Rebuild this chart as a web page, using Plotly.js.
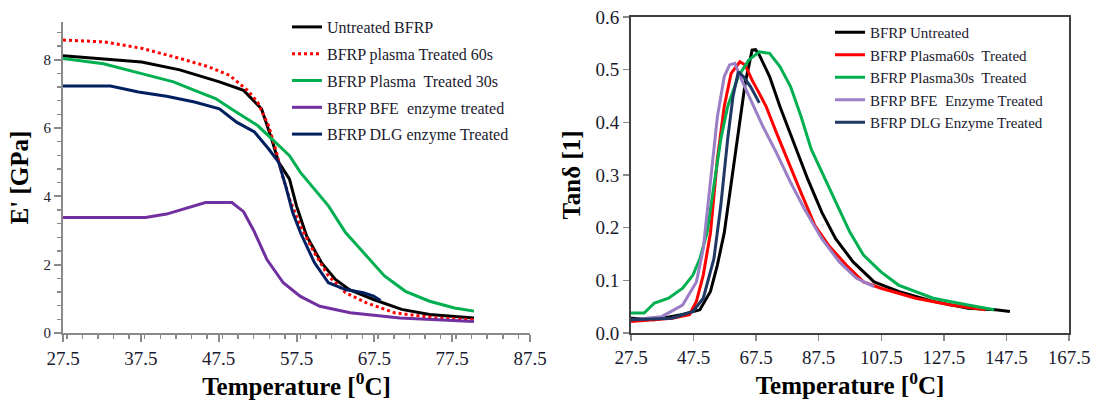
<!DOCTYPE html>
<html>
<head>
<meta charset="utf-8">
<script src="https://cdn.plot.ly/plotly-3.0.1.min.js"></script>
<style>html,body{margin:0;padding:0;background:#fff;}#chart{width:1097px;height:400px;}</style>
</head>
<body>
<div id="chart"></div>
<script>
// ---------- Left panel: storage modulus E' [GPa] ----------
const eUntreatedT = [27.5,32.5,37.6,42.5,47.6,50.7,53,54.3,55.2,56.6,57.5,58.8,60.7,62.5,64.3,67.4,71,74.6,80.3];
const eUntreated  = [8.11,8.03,7.93,7.7,7.35,7.1,6.56,5.68,5.0,4.5,3.72,2.84,2.06,1.57,1.27,0.98,0.69,0.54,0.44];
const ePlasma60T  = [27.5,32.7,37.6,42.6,46.2,48.9,51.2,52.5,53.9,54.8,55.7,56.6,58,59.8,61.6,63.8,66.5,70.1,75.5,80.3];
const ePlasma60   = [8.57,8.52,8.33,8.03,7.79,7.54,7.1,6.76,6.07,5.39,4.6,3.92,3.13,2.35,1.67,1.18,0.88,0.59,0.44,0.39];
const ePlasma30T  = [27.5,32.7,37.6,41.7,44.4,47.1,49.8,52.5,54.8,56.6,58,59.8,61.6,63.8,66.1,68.8,71.5,74.6,77.8,80.3];
const ePlasma30   = [8.03,7.88,7.59,7.35,7.1,6.86,6.46,6.07,5.58,5.19,4.7,4.21,3.72,2.94,2.35,1.67,1.22,0.93,0.73,0.64];
const eBfeT       = [27.5,38.1,40.8,43.5,45.8,49.2,50.7,52,53.7,55.8,58,60.5,64.4,70.8,75.5,80.3];
const eBfe        = [3.38,3.38,3.48,3.67,3.82,3.82,3.55,3.0,2.15,1.47,1.07,0.78,0.59,0.44,0.39,0.34];
const eDlgT       = [27.5,33.6,37.2,40.8,44.4,47.6,49.8,52.1,53.9,55.2,56.1,57,58,59.8,61.6,63.8,66.1,67.4,68.3];
const eDlg        = [7.23,7.23,7.05,6.93,6.76,6.56,6.17,5.88,5.39,5.0,4.31,3.53,2.94,2.06,1.47,1.27,1.18,1.08,0.95];
const leftNames   = ["Untreated BFRP","BFRP plasma Treated 60s","BFRP Plasma  Treated 30s","BFRP BFE  enzyme treated","BFRP DLG enzyme Treated"];

// ---------- Right panel: Tan delta ----------
const tUntreatedT = [27.5,35,44,49.5,52.9,55.1,57.3,59.5,61.8,64,66.2,67.3,68.5,71.8,75.1,79.6,84,88.5,92.9,98.5,105.2,113,124.1,135.2,144.1,148.6];
const tUntreated  = [0.028,0.025,0.035,0.044,0.079,0.129,0.19,0.28,0.38,0.474,0.537,0.538,0.528,0.487,0.43,0.361,0.292,0.229,0.179,0.135,0.097,0.079,0.06,0.047,0.044,0.041];
const tPlasma60T  = [27.5,40.6,46.2,48.4,50.6,52.9,55.1,57.3,59.5,62.3,64,66.2,68.5,70.7,74,77.4,81.8,86.3,90.7,96.3,101.8,107.4,118.5,129.7,140.8];
const tPlasma60   = [0.022,0.028,0.035,0.06,0.11,0.19,0.33,0.43,0.493,0.515,0.509,0.48,0.455,0.43,0.38,0.33,0.267,0.204,0.166,0.129,0.097,0.085,0.066,0.053,0.044];
const tPlasma30T  = [27.5,31.7,35,39.5,44,47.3,49.5,51.8,54,56.2,58.4,61.8,65.1,68.5,71.8,75.1,78.5,81.8,85.1,88.5,92.9,97.4,101.8,107.4,113,124.1,135.2,143.6];
const tPlasma30   = [0.038,0.038,0.057,0.066,0.085,0.11,0.141,0.19,0.28,0.368,0.43,0.487,0.518,0.534,0.531,0.506,0.468,0.412,0.349,0.305,0.248,0.192,0.148,0.116,0.091,0.066,0.053,0.044];
const tBfeT       = [27.5,37.3,44,48.4,50.6,52.9,55.1,57.3,59,60.7,62.9,66.2,69.6,74,78.5,82.9,88.5,94.1,99.6,105.2];
const tBfe        = [0.025,0.031,0.053,0.097,0.16,0.286,0.41,0.487,0.509,0.512,0.48,0.437,0.393,0.342,0.286,0.236,0.179,0.135,0.104,0.088];
const tDlgT       = [27.5,40.6,47.3,50.6,54,56.2,58.4,60.1,61.8,63.4,65.7,68.5];
const tDlg        = [0.025,0.028,0.041,0.066,0.141,0.242,0.368,0.449,0.496,0.487,0.468,0.437];
const rightNames  = ["BFRP Untreated","BFRP Plasma60s  Treated","BFRP Plasma30s  Treated","BFRP BFE  Enzyme Treated","BFRP DLG Enzyme Treated"];

const xTitle = "Temperature [<sup>0</sup>C]";
const leftYTitle = "E' [GPa]";
const rightYTitle = "Tanδ [1]";

const serif = "Liberation Serif, Times New Roman, serif";
const txt = "#1a1a2e";

function tr(x, y, name, color, dash, xa, ya, legend, group) {
  return {x: x, y: y, name: name, type: "scatter", mode: "lines",
          line: {color: color, width: 3, dash: dash}, xaxis: xa, yaxis: ya,
          legend: legend, legendgroup: group};
}

const data = [
  tr(eUntreatedT, eUntreated, leftNames[0], "#000000", "solid", "x", "y", "legend", "a"),
  tr(ePlasma60T, ePlasma60, leftNames[1], "#ff0000", "dot", "x", "y", "legend", "b"),
  tr(ePlasma30T, ePlasma30, leftNames[2], "#00b050", "solid", "x", "y", "legend", "c"),
  tr(eBfeT, eBfe, leftNames[3], "#7030a0", "solid", "x", "y", "legend", "d"),
  tr(eDlgT, eDlg, leftNames[4], "#002060", "solid", "x", "y", "legend", "e"),
  tr(tUntreatedT, tUntreated, rightNames[0], "#000000", "solid", "x2", "y2", "legend2", "f"),
  tr(tPlasma60T, tPlasma60, rightNames[1], "#ff0000", "solid", "x2", "y2", "legend2", "f"),
  tr(tPlasma30T, tPlasma30, rightNames[2], "#00b050", "solid", "x2", "y2", "legend2", "f"),
  tr(tBfeT, tBfe, rightNames[3], "#9a7fc6", "solid", "x2", "y2", "legend2", "f"),
  tr(tDlgT, tDlg, rightNames[4], "#1f3864", "solid", "x2", "y2", "legend2", "f")
];

const tickFontX = {family: serif, size: 19, color: txt};
const titleFont = {family: serif, size: 25, color: "#000", weight: 700};

const layout = {
  width: 1097, height: 400,
  margin: {l: 0, r: 0, t: 0, b: 0},
  paper_bgcolor: "#fff", plot_bgcolor: "#fff",
  font: {family: serif, color: txt},
  xaxis: {domain: [63/1097, 530/1097], range: [27.5, 87.5], tick0: 27.5, dtick: 10,
          showgrid: false, zeroline: false, showline: true, linecolor: "#8a8a8a", linewidth: 2,
          ticks: "outside", ticklen: 7, tickwidth: 2, tickcolor: "#8a8a8a",
          minor: {dtick: 2, ticks: "outside", ticklen: 4, tickwidth: 1.5, tickcolor: "#8a8a8a"},
          tickfont: tickFontX, tickformat: ".1f",
          title: {text: xTitle, font: titleFont, standoff: 2}, anchor: "y"},
  yaxis: {domain: [1 - 333/400, 1 - 22/400], range: [0, 9.1], dtick: 2,
          showgrid: false, zeroline: false, showline: true, linecolor: "#8a8a8a", linewidth: 2,
          ticks: "outside", ticklen: 7, tickwidth: 2, tickcolor: "#8a8a8a",
          minor: {dtick: 0.4, ticks: "outside", ticklen: 4, tickwidth: 1.5, tickcolor: "#8a8a8a"},
          tickfont: {family: serif, size: 15, color: txt},
          title: {text: leftYTitle, font: titleFont, standoff: 8}, anchor: "x"},
  xaxis2: {domain: [631/1097, 1069/1097], range: [27.5, 167.5], tick0: 27.5, dtick: 20,
          showgrid: false, zeroline: false, showline: true, mirror: true, linecolor: "#404040", linewidth: 2,
          ticks: "outside", ticklen: 6, tickwidth: 1.5, tickcolor: "#8a8a8a",
          tickfont: tickFontX, tickformat: ".1f",
          title: {text: xTitle, font: titleFont, standoff: 2}, anchor: "y2"},
  yaxis2: {domain: [1 - 333/400, 1 - 17/400], range: [0, 0.6], dtick: 0.1, tickformat: ".1f",
          showgrid: false, zeroline: false, showline: true, mirror: true, linecolor: "#404040", linewidth: 2,
          ticks: "outside", ticklen: 6, tickwidth: 1.5, tickcolor: "#8a8a8a",
          tickfont: {family: serif, size: 19, color: txt},
          title: {text: rightYTitle, font: titleFont, standoff: 8}, anchor: "x2"},
  legend: {x: 287/1097, y: 1 - 10/400, xanchor: "left", yanchor: "top", bgcolor: "rgba(0,0,0,0)",
           font: {family: serif, size: 16, color: txt}, itemwidth: 30,
           traceorder: "grouped", tracegroupgap: 3},
  legend2: {x: 830/1097, y: 1 - 16/400, xanchor: "left", yanchor: "top", bgcolor: "rgba(0,0,0,0)",
           font: {family: serif, size: 15, color: txt}, itemwidth: 30, tracegroupgap: 0},
  showlegend: true
};

Plotly.newPlot("chart", data, layout, {staticPlot: true, displayModeBar: false});
</script>
</body>
</html>
